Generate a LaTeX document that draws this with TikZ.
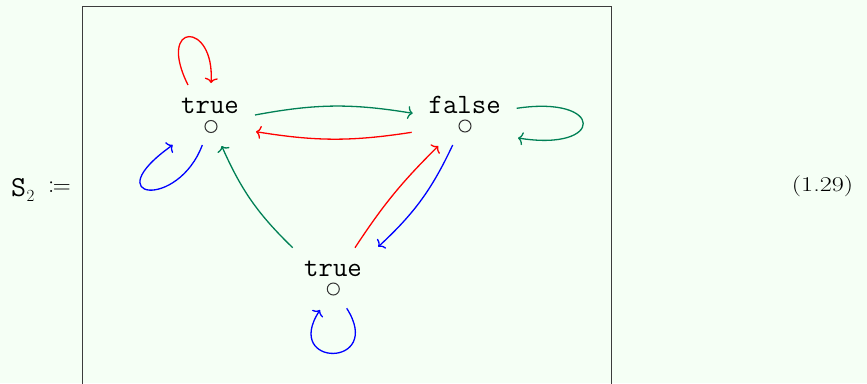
\documentclass[tikz,border=0pt]{standalone}
\usepackage{graphicx}
\usepackage{mathtools}
\usetikzlibrary{arrows.meta,calc}
\definecolor{bg}{RGB}{245,255,245}
\definecolor{dgreen}{RGB}{0,128,85}
\definecolor{framecol}{RGB}{60,60,60}
\begin{document}
\begin{tikzpicture}[x=1pt,y=-1pt,
  edge/.style={line width=1.3pt,-{To[length=5pt,width=13pt]}},
  lbl/.style={font=\fontsize{28}{30}\selectfont\ttfamily, inner sep=0pt, anchor=base},
  dot/.style={circle, draw=black!80, line width=1pt, minimum size=12pt, inner sep=0pt},
  txt/.style={inner sep=0pt, anchor=base west}]
\fill[bg] (0,0) rectangle (867,383);
\useasboundingbox (0,0) rectangle (867,383);
\draw[framecol, line width=1.3pt] (82.5,395) -- (82.5,6.5) -- (611.8,6.5) -- (611.8,395);

% left-hand side and equation number
\node[txt, font=\fontsize{29}{30}\selectfont\ttfamily] (s) at (11,196) {S};
\node[txt, font=\fontsize{17}{18}\selectfont] (sub) at (26.5,201) {2};
\node[txt, font=\fontsize{24}{26}\selectfont] (assign) at (48,193.5) {$\coloneqq$};
\node[txt, font=\fontsize{21}{24}\selectfont] (eqn) at (791.7,191) {\scalebox{1.25}[1]{(1.29)}};

% states
\node[lbl] (t1) at (210,113) {true};
\node[dot] (t1c) at (211,126.5) {};
\node[lbl] (f) at (464.7,113) {false};
\node[dot] (fc) at (465,126) {};
\node[lbl] (t2) at (333,276) {true};
\node[dot] (t2c) at (333.3,289) {};

% transitions between states
\draw[edge,dgreen] ($(t1c)+(44,-11.5)$) to[bend left=10] ($(fc)+(-52.3,-12.7)$);
\draw[edge,red] ($(fc)+(-53.3,6.3)$) to[bend left=9] ($(t1c)+(45,5.2)$);
\draw[edge,dgreen] ($(t2c)+(-40.6,-41.3)$) to[bend left=11] ($(t1c)+(10.7,19.5)$);
\draw[edge,red] ($(t2c)+(21.7,-41.3)$) to[bend left=6] ($(fc)+(-26.7,20)$);
\draw[edge,blue] ($(fc)+(-12.3,19)$) to[bend left=11] ($(t2c)+(45,-42.3)$);

% self loops
\draw[edge,red] ($(t1c)+(-23,-41.5)$) .. controls ($(t1c)+(-55,-105.5)$) and ($(t1c)+(4,-105.5)$) .. ($(t1c)+(0,-43.5)$);
\draw[edge,blue] ($(t1c)+(-8.7,18.5)$) .. controls ($(t1c)+(-33,83.5)$) and ($(t1c)+(-116,73.5)$) .. ($(t1c)+(-38.3,18.5)$);
\draw[edge,dgreen] ($(fc)+(51.7,-17.7)$) .. controls ($(fc)+(140,-31)$) and ($(fc)+(140,26)$) .. ($(fc)+(53,12)$);
\draw[edge,blue] ($(t2c)+(13.4,19.3)$) .. controls ($(t2c)+(51.7,79)$) and ($(t2c)+(-51.3,79)$) .. ($(t2c)+(-13.3,21)$);
\end{tikzpicture}
\end{document}
